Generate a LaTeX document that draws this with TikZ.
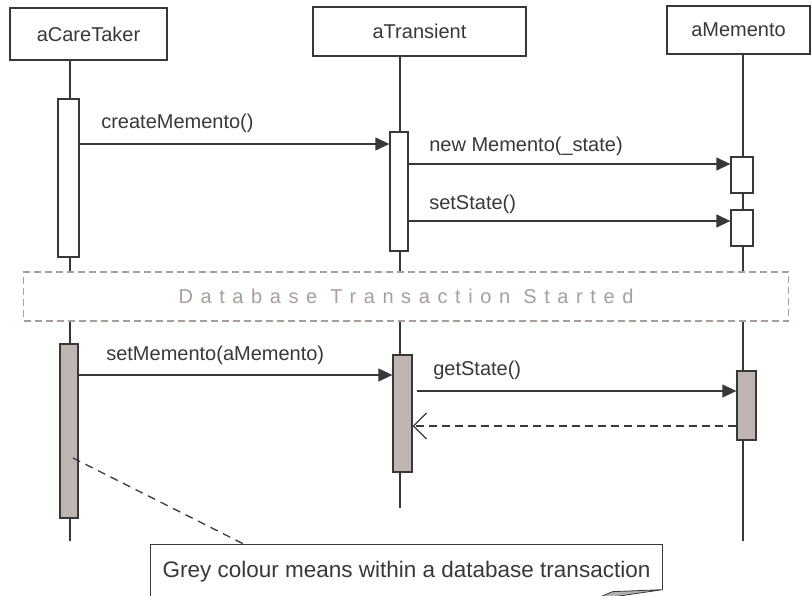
\documentclass[tikz,border=0pt]{standalone}
\usepackage{fontspec}
\setmainfont{Liberation Sans}
\newfontfamily\spacedfont[LetterSpace=38]{Liberation Sans}
\usetikzlibrary{arrows.meta,positioning}
\definecolor{ink}{HTML}{383838}
\definecolor{dbgrey}{HTML}{BFB5B2}
\definecolor{dbline}{HTML}{A99E9A}

\begin{document}
\begin{tikzpicture}[x=1pt, y=-1pt, line width=1.3pt, color=ink,
    font=\fontsize{20}{24}\selectfont,
    head/.style={draw, rectangle, inner sep=0pt},
    act/.style={draw, fill=white, inner sep=0pt, minimum width=20pt},
    dbact/.style={act, fill=dbgrey},
    call/.style={-{Triangle[length=14pt, width=13pt]}},
    reply/.style={dash pattern=on 8pt off 5pt, -{Straight Barb[length=13pt, width=26pt]}},
    msg/.style={pos=0, anchor=base west, inner sep=0pt, xshift=20pt, yshift=14pt}]
   \useasboundingbox (0,0) rectangle (812,595);

   % objects
   \node[head, minimum width=157pt, minimum height=52pt] (careTaker) at (88.5,34)   {aCareTaker};
   \node[head, minimum width=213pt, minimum height=49pt] (transient) at (419.5,31.5) {aTransient};
   \node[head, minimum width=143pt, minimum height=48pt] (memento)   at (738.5,30)   {aMemento};

   % lifelines
   \coordinate (careEnd)  at (70,541);
   \coordinate (transEnd) at (400,508);
   \coordinate (memEnd)   at (743,541);
   \draw (careTaker.south -| careEnd) -- (careEnd);
   \draw (transient.south -| transEnd) -- (transEnd);
   \draw (memento.south -| memEnd) -- (memEnd);

   % before the transaction
   \node[act, minimum width=21pt, minimum height=158pt] (careA)  at (68.5,178)  {};
   \node[act, minimum width=18pt, minimum height=119pt] (transA) at (399,191.5) {};
   \node[act, minimum width=22pt, minimum height=36pt]  (memA)   at (742,175)   {};
   \node[act, minimum width=22pt, minimum height=36pt]  (memB)   at (742,228)   {};

   \path (careA.east |- 0,144)  edge [call] node[msg, xshift=1pt, yshift=2pt] (lCreate) {createMemento()}     (transA.west |- 0,144)
         (transA.east |- 0,164) edge [call] node[msg, yshift=-1pt]            (lNew)    {new Memento(\_state)} (memA.west |- 0,164)
         (transA.east |- 0,221) edge [call] node[msg, yshift=-2pt]            (lSet)    {setState()}          (memB.west |- 0,221);

   % transaction marker
   \node[draw=dbline, fill=white, dash pattern=on 7pt off 4pt, minimum width=765pt, minimum height=49pt,
         text=dbline, font=\spacedfont\fontsize{20}{24}\selectfont] (dbStart) at (406,296.5) {Database Transaction Started};

   % inside the transaction
   \node[dbact, minimum width=18pt, minimum height=174pt] (careC)  at (69,431)      {};
   \node[dbact, minimum width=19pt, minimum height=117pt] (transC) at (402.5,413.5) {};
   \node[dbact, minimum width=19pt, minimum height=69pt]  (memC)   at (746.5,405.5) {};

   \path (careC.east |- 0,375)  edge [call] node[msg, xshift=7pt, yshift=1pt]  (lSetM) {setMemento(aMemento)} (transC.west |- 0,375)
         (transC.east |- 0,391) edge [call, shorten <=4pt] node[msg, yshift=2pt] (lGet) {getState()}     (memC.west |- 0,391)
         (memC.west |- 0,426)   edge [reply]                                               (transC.east |- 0,426);

   % note
   \node[minimum width=511pt, minimum height=53pt, inner sep=0pt, font=\fontsize{22.5}{27}\selectfont] (note) at (406.5,571.5) {Grey colour means within a database transaction};
   \draw (note.south west) -- (note.north west) -- (note.north east) -- ([yshift=9pt]note.south east);
   \filldraw[fill=gray!60, line width=0.8pt] ([yshift=9pt]note.south east) -- ++(-50,2) -- ++(-12,5) -- ++(14,0) -- cycle;
   \coordinate (noteTip) at (73,458);
   \draw[dash pattern=on 8pt off 6pt] (noteTip) -- ([xshift=94pt]note.north west);
\end{tikzpicture}
\end{document}
